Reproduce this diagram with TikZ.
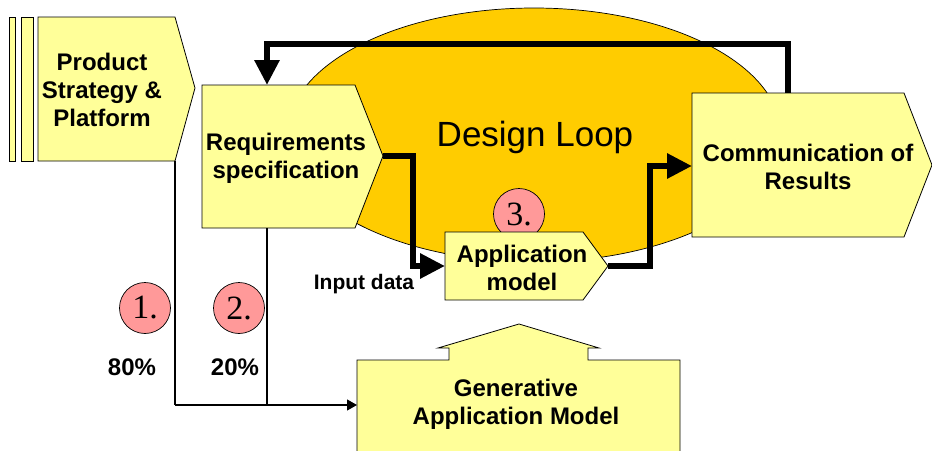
\documentclass[tikz,border=0pt]{standalone}
\usepackage{fontspec}
\setmainfont{Liberation Sans}
\newfontfamily\numfont{Liberation Serif}
\usetikzlibrary{arrows.meta,shapes.geometric}
\definecolor{paleyel}{HTML}{FFFF99}
\definecolor{loopyel}{HTML}{FFCC00}
\definecolor{pinkc}{HTML}{FF9999}
\begin{document}
\begin{tikzpicture}[x=1pt,y=-1pt,
  shapebox/.style={draw=black, line width=0.8pt, fill=paleyel, line join=miter},
  lbl/.style={font=\fontsize{24}{28}\selectfont\bfseries, align=center, inner sep=0pt},
  small/.style={font=\fontsize{21}{24}\selectfont\bfseries, inner sep=0pt},
  num/.style={circle, draw=black, line width=0.7pt, fill=pinkc, minimum size=51pt, inner sep=0pt, font=\numfont\fontsize{34}{34}\selectfont},
  thickarrow/.style={line width=6pt, line join=miter, -{Triangle[length=25pt,width=24pt]}},
  thinarrow/.style={line width=1.2pt, -{Triangle[length=10pt,width=11pt]}},
  thinline/.style={line width=1.2pt},
]
\useasboundingbox (0,0) rectangle (932,450);

% background loop
\node[ellipse, draw=black, line width=0.7pt, fill=loopyel, minimum width=494pt, minimum height=254pt, inner sep=0pt] (loop) at (534,135) {};
\node[font=\fontsize{35}{35}\selectfont, inner sep=0pt] (looptxt) at (535,137) {Design Loop};

% key coordinates
\coordinate (prodB) at (175,161);
\coordinate (reqT) at (267,85);
\coordinate (reqB) at (267,228);
\coordinate (reqTip) at (383,156);
\coordinate (appL) at (445,266);
\coordinate (appTip) at (608,266);
\coordinate (comL) at (692,166);
\coordinate (comT) at (788,93);
\coordinate (genL) at (357,405);
\coordinate (joinA) at (175,405);
\coordinate (joinB) at (267,405);

% feedback loop
\draw[thickarrow] (comT) -- (788,44) -- (267,44) -- (reqT);

% Product strategy
\draw[shapebox] (9,17) rectangle (15,161);
\draw[shapebox] (21,17) rectangle (33,161);
\draw[shapebox] (38,17) -- (175,17) -- (195,88) -- (175,161) -- (38,161) -- cycle;
\node[lbl] (prod) at (102,90) {Product\\Strategy \&\\Platform};

% Requirements
\draw[shapebox] (202,85) -- (355,85) -- (383,156) -- (355,228) -- (202,228) -- cycle;
\node[lbl] (req) at (286,158) {Requirements\\specification};

% Communication
\draw[shapebox] (692,93) -- (904,93) -- (932,165) -- (904,237) -- (692,237) -- cycle;
\node[lbl] (com) at (808,167) {Communication of\\Results};

% circle 3 and application model
\node[num] (n3) at (519,214) {3.};
\draw[shapebox] (445,232) -- (583,232) -- (608,266) -- (583,300) -- (445,300) -- cycle;
\node[lbl] (app) at (522,268) {Application\\model};

% thick connectors
\draw[thickarrow] (reqTip) -- (413,156) -- (413,266) -- (appL);
\draw[thickarrow] (appTip) -- (650,266) -- (650,166) -- (comL);

% Generative application model
\draw[shapebox] (357,456) -- (357,360) -- (449,360) -- (449,348) -- (438,348) -- (519,324) -- (599,348) -- (588,348) -- (588,360) -- (680,360) -- (680,456);
\node[lbl] (gen) at (516,404) {Generative\\Application Model};

% thin connectors
\draw[thinline] (prodB) -- (joinA);
\draw[thinline] (reqB) -- (joinB);
\draw[thinarrow] (joinA) -- (genL);

% numbered circles and labels
\node[num] (n1) at (145,308) {1.};
\node[num] (n2) at (239,308) {2.};
\node[lbl] (p80) at (132,367) {80\%};
\node[lbl] (p20) at (235,367) {20\%};
\node[small] (inp) at (364,284) {Input data};
\end{tikzpicture}
\end{document}
